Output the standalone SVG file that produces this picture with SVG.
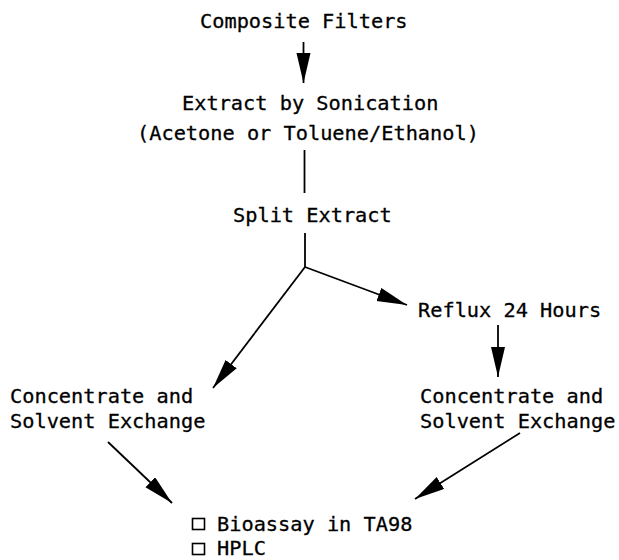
<svg xmlns="http://www.w3.org/2000/svg" width="619" height="560" viewBox="0 0 619 560">
<style>
text{font-family:"DejaVu Sans Mono","Liberation Mono",monospace;font-size:20.3px;fill:#000;stroke:#000;stroke-width:0.3}
.c{stroke:#000;stroke-width:1.8;fill:none}
.b{stroke:#000;stroke-width:1.6;fill:none}
</style>
<defs>
<marker id="ah" markerUnits="userSpaceOnUse" markerWidth="32" markerHeight="16" refX="30" refY="7" orient="auto" viewBox="0 0 32 16">
<path d="M0,0 L30,7 L0,14 z" fill="#000"/>
</marker>
</defs>
<rect width="619" height="560" fill="#fff"/>
<g id="connectors">
<line class="c" x1="303.5" y1="42" x2="303.5" y2="83" marker-end="url(#ah)"/>
<line class="c" x1="304.5" y1="150" x2="304.5" y2="193"/>
<polyline class="c" points="305,233 305,267"/>
<line class="c" x1="305" y1="267" x2="407" y2="305" marker-end="url(#ah)"/>
<line class="c" x1="305" y1="267" x2="213" y2="388" marker-end="url(#ah)"/>
<line class="c" x1="498" y1="325" x2="498" y2="377" marker-end="url(#ah)"/>
<line class="c" x1="108" y1="442" x2="172" y2="503" marker-end="url(#ah)"/>
<line class="c" x1="520" y1="433" x2="415" y2="499" marker-end="url(#ah)"/>
</g>
<g id="composite-filters"><text x="200" y="28">Composite Filters</text></g>
<g id="extract"><text x="182" y="110">Extract by Sonication</text><text x="137" y="140">(Acetone or Toluene/Ethanol)</text></g>
<g id="split"><text x="233" y="222">Split Extract</text></g>
<g id="reflux"><text x="418" y="317">Reflux 24 Hours</text></g>
<g id="concentrate-left"><text x="10" y="403">Concentrate and</text><text x="10" y="428">Solvent Exchange</text></g>
<g id="concentrate-right"><text x="420" y="403">Concentrate and</text><text x="420" y="428">Solvent Exchange</text></g>
<g id="results">
<rect class="b" x="192.5" y="518.5" width="12" height="11"/>
<text x="217" y="531">Bioassay in TA98</text>
<rect class="b" x="192.5" y="543.5" width="12" height="11"/>
<text x="217" y="555">HPLC</text>
</g>
</svg>
